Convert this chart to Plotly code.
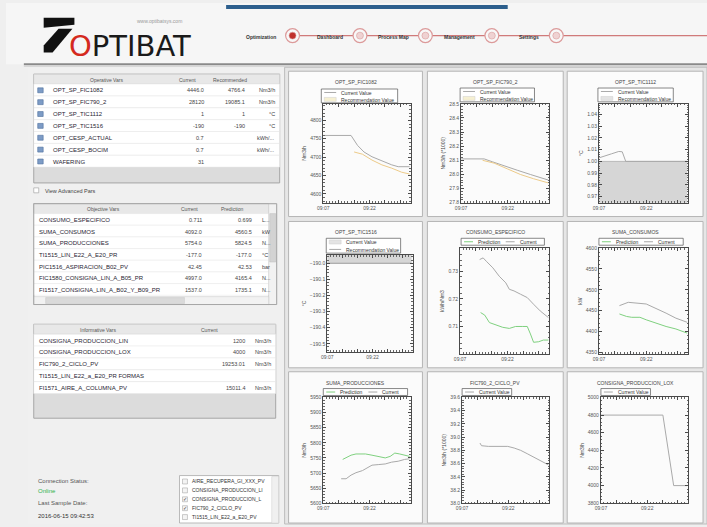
import plotly.graph_objects as go

W, H = 707, 527
FONT = "Liberation Sans, Arial, sans-serif"


def X(p):
    return p / W


def Y(p):
    return 1 - p / H


# ------------------------------------------------------------------ data
nav_labels = ["Optimization", "Dashboard", "Process Map", "Management", "Settings"]

operative_vars = ["OPT_SP_FIC1082", "OPT_SP_FIC790_2", "OPT_SP_TIC1112", "OPT_SP_TIC1516",
                  "OPT_CESP_ACTUAL", "OPT_CESP_BOCIM", "WAFERING"]
operative_current = ["4446.0", "28120", "1", "-190", "0.7", "0.7", "31"]
operative_recommended = ["4766.4", "19085.1", "1", "-190", "", "", ""]
operative_units = ["Nm3/h", "Nm3/h", "°C", "°C", "kWh/...", "kWh/...", ""]

objective_vars = ["CONSUMO_ESPECIFICO", "SUMA_CONSUMOS", "SUMA_PRODUCCIONES", "TI1515_LIN_E22_A_E20_PR",
                  "PIC1516_ASPIRACION_B02_PV", "FIC1580_CONSIGNA_LIN_A_B05_PR",
                  "FI1517_CONSIGNA_LIN_A_B02_Y_B09_PR"]
objective_current = ["0.711", "4092.0", "5754.0", "-177.0", "42.45", "4997.0", "1537.0"]
objective_prediction = ["0.699", "4560.5", "5824.5", "-177.0", "42.53", "4165.4", "1735.1"]
objective_units = ["L...", "kW", "N...", "°C", "bar", "N...", "N..."]

informative_vars = ["CONSIGNA_PRODUCCION_LIN", "CONSIGNA_PRODUCCION_LOX", "FIC790_2_CICLO_PV",
                    "TI1515_LIN_E22_a_E20_PR FORMAS", "FI1571_AIRE_A_COLUMNA_PV"]
informative_current = ["1200", "4000", "19253.01", "", "15011.4"]
informative_units = ["Nm3/h", "Nm3/h", "Nm3/h", "", "Nm3/h"]

connection_status = "Online"
last_sample_date = "2016-06-15 09:42:53"
trend_tags = ["AIRE_RECUPERA_GI_XXX_PV", "CONSIGNA_PRODUCCION_LI", "CONSIGNA_PRODUCCION_L",
              "FIC790_2_CICLO_PV", "TI1515_LIN_E22_a_E20_PV"]
trend_checked = [False, False, True, True, False]

# time axis: minutes after 09:07
time_tickvals = [0, 5, 10, 15, 20, 25]
time_ticktext = ["09:07", "", "", "09:22", "", ""]

chart_titles = ["OPT_SP_FIC1082", "OPT_SP_FIC790_2", "OPT_SP_TIC1112",
                "OPT_SP_TIC1516", "CONSUMO_ESPECIFICO", "SUMA_CONSUMOS",
                "SUMA_PRODUCCIONES", "FIC790_2_CICLO_PV", "CONSIGNA_PRODUCCION_LOX"]
chart_units = ["Nm3/h", "Nm3/h (*1000)", "°C", "°C", "kWh/Nm3", "kW", "Nm3/h", "Nm3/h (*1000)", "Nm3/h"]

fic1082_t_cur = [0, 9.0, 11.1, 13.2, 15.8, 19.0, 22.2, 24.3, 28]
fic1082_cur = [4759, 4759, 4732, 4714, 4701, 4689, 4679, 4674, 4674]
fic1082_t_rec = [10.0, 12.7, 15.8, 19.0, 22.2, 25.4, 28]
fic1082_rec = [4714, 4708, 4692, 4679, 4670, 4659, 4654]

fic790_t_cur = [0, 7.4, 10.0, 13.7, 18.0, 22.2, 25.4, 28]
fic790_cur = [28.11, 28.11, 28.09, 28.06, 28.03, 28.0, 27.98, 27.96]
fic790_t_rec = [6.9, 10.6, 14.8, 19.0, 23.2, 28]
fic790_rec = [28.10, 28.08, 28.04, 28.0, 27.97, 27.94]

tic1112_t_cur = [0, 2, 4, 6.3, 7.4, 8.5, 28]
tic1112_cur = [1.003, 1.005, 1.0065, 1.0085, 1.0082, 1.000, 1.000]
tic1112_t_rec = [0, 28]
tic1112_rec = [1.0, 1.0]

tic1516_t = [0, 28]
tic1516_cur = [-190.0, -190.0]
tic1516_rec = [-190.0, -190.0]

cesp_t_cur = [6.2, 7.3, 8.3, 10.4, 12.4, 14.5, 15.6, 17.1, 19.2, 21.3, 23.3, 25.4, 28]
cesp_cur = [0.7342, 0.7348, 0.7336, 0.7312, 0.7282, 0.7258, 0.7235, 0.7229, 0.7217, 0.7205,
            0.7181, 0.7157, 0.7133]
cesp_t_pred = [6.5, 7.8, 9.3, 11.4, 13.5, 15.6, 17.6, 19.7, 21.3, 22.3, 23.3, 24.9, 26.4, 28]
cesp_pred = [0.7151, 0.7142, 0.7115, 0.7106, 0.7098, 0.7094, 0.7101, 0.7101, 0.7101, 0.7074,
             0.7044, 0.7046, 0.7052, 0.7052]

cons_t_cur = [6.5, 9.3, 15.0, 18.1, 21.3, 24.4, 28]
cons_cur = [4462, 4470, 4466, 4456, 4444, 4432, 4422]
cons_t_pred = [6.5, 8.8, 10.4, 13.0, 15.0, 18.1, 21.3, 24.4, 28]
cons_pred = [4442, 4436, 4434, 4434, 4428, 4420, 4412, 4406, 4396]

prod_t_pred = [6.3, 7.4, 9.0, 10.6, 13.7, 15.8, 18.5, 20.1, 21.7, 23.2, 24.8, 26.4, 28]
prod_pred = [5745, 5750, 5759, 5763, 5763, 5759, 5752, 5750, 5755, 5766, 5763, 5759, 5755]
prod_t_cur = [5.8, 7.4, 9.0, 10.6, 12.7, 14.3, 15.8, 18.0, 20.1, 22.2, 24.3, 26.4, 28]
prod_cur = [5681, 5681, 5693, 5701, 5708, 5717, 5726, 5728, 5730, 5736, 5739, 5745, 5747]

ciclo_t = [5.8, 6.3, 8.5, 11.6, 14.8, 16.9, 19.0, 21.1, 23.2, 25.4, 28]
ciclo = [38.91, 38.87, 38.86, 38.86, 38.86, 38.835, 38.80, 38.75, 38.695, 38.64, 38.58]

lox_t = [0, 20.1, 23.6, 28]
lox = [4800, 4800, 4000, 4000]

# ------------------------------------------------------------------ styles
STYLE = {
    "cur": dict(line=dict(color="#a9a9a9", width=1)),
    "rec": dict(line=dict(color="#ecca88", width=1)),
    "recfill": dict(line=dict(color="#b9b9b9", width=1), fill="tozeroy", fillcolor="#d6d6d6"),
    "pred": dict(line=dict(color="#7fd07f", width=1)),
}

charts = [
    dict(box=(320, 102, 408, 202), yr=[4576, 4845], dt=50, fmt="d",
         series=[("Current Value", fic1082_t_cur, fic1082_cur, "cur"),
                 ("Recommendation Value", fic1082_t_rec, fic1082_rec, "rec")],
         leg=(318, 87, 395, 101, "v")),
    dict(box=(459, 102, 548, 202), yr=[27.8, 28.5], dt=0.1, fmt=".1f",
         series=[("Current Value", fic790_t_cur, fic790_cur, "cur"),
                 ("Recommendation Value", fic790_t_rec, fic790_rec, "rec")],
         leg=(458, 86, 533, 100, "v")),
    dict(box=(598, 102, 688, 202), yr=[0.9647, 1.0492], dt=0.01, fmt=".2f",
         series=[("Recommendation Value", tic1112_t_rec, tic1112_rec, "recfill"),
                 ("Current Value", tic1112_t_cur, tic1112_cur, "cur")],
         leg=(597, 86, 673, 100, "v")),
    dict(box=(324, 255, 410, 353), yr=[-190.551, -189.949], dt=0.1, fmt=".1f",
         series=[("Current Value", tic1516_t, tic1516_cur, "recfill"),
                 ("Recommendation Value", tic1516_t, tic1516_rec, "cur")],
         leg=(323, 238, 398, 253, "v")),
    dict(box=(458, 248, 548, 355), yr=[0.7002, 0.7383], dt=0.01, fmt=".2f",
         series=[("Prediction", cesp_t_pred, cesp_pred, "pred"),
                 ("Current", cesp_t_cur, cesp_cur, "cur")],
         leg=(459, 238, 543, 245, "h")),
    dict(box=(598, 248, 688, 355), yr=[4346, 4600], dt=50, fmt="d",
         series=[("Prediction", cons_t_pred, cons_pred, "pred"),
                 ("Current", cons_t_cur, cons_cur, "cur")],
         leg=(598, 238, 683, 245, "h")),
    dict(box=(320, 399, 408, 506), yr=[5600, 5950], dt=50, fmt="d",
         series=[("Prediction", prod_t_pred, prod_pred, "pred"),
                 ("Current", prod_t_cur, prod_cur, "cur")],
         leg=(320, 390, 405, 397, "h")),
    dict(box=(460, 399, 548, 506), yr=[38.0, 39.6], dt=0.2, fmt=".1f",
         series=[("Current Value", ciclo_t, ciclo, "cur")],
         leg=(460, 390, 510, 397, "h")),
    dict(box=(600, 399, 688, 506), yr=[3800, 5000], dt=200, fmt="d",
         series=[("Current Value", lox_t, lox, "cur")],
         leg=(600, 390, 650, 397, "h")),
]

panel_cols = [(285, 420), (425, 562), (566, 703)]
panel_rows = [(69, 216), (221, 369), (373, 526)]

fig = go.Figure()
shapes = []
annots = []


def rect(x0, y0, x1, y1, fill, line="rgba(0,0,0,0)", lw=1, layer="below"):
    shapes.append(dict(type="rect", xref="paper", yref="paper", x0=X(x0), x1=X(x1), y0=Y(y1), y1=Y(y0),
                       fillcolor=fill, line=dict(color=line, width=lw), layer=layer))


def hline(x0, x1, y, color, lw=1, layer="below"):
    shapes.append(dict(type="line", xref="paper", yref="paper", x0=X(x0), x1=X(x1), y0=Y(y), y1=Y(y),
                       line=dict(color=color, width=lw), layer=layer))


def circle(cx, cy, r, fill, line, lw=1):
    shapes.append(dict(type="circle", xref="paper", yref="paper", x0=X(cx - r), x1=X(cx + r),
                       y0=Y(cy + r), y1=Y(cy - r), fillcolor=fill, line=dict(color=line, width=lw), layer="above"))


def poly(points, fill):
    d = "M " + " L ".join(f"{X(a):.5f},{Y(b):.5f}" for a, b in points) + " Z"
    shapes.append(dict(type="path", xref="paper", yref="paper", path=d, fillcolor=fill,
                       line=dict(width=0), layer="above"))


def text(x, y, s, size=5, color="#333", xa="left", ya="middle", family=FONT, angle=0):
    annots.append(dict(x=X(x), y=Y(y), xref="paper", yref="paper", text=s, showarrow=False,
                       xanchor=xa, yanchor=ya, font=dict(size=size, color=color, family=family),
                       textangle=angle))


def draw_table(edges, top, bottom, header, columns, aligns, colors, sizes, header_h, row_h, under_fill):
    x0, x1 = edges[0], edges[-1]
    rect(x0, top, x1, bottom, under_fill, "#a6a6a6", 1)
    rect(x0, top, x1, top + header_h, "#e8e8e8", "#cdcdcd", 0.5)
    for lab, cx in header:
        text(cx, top + header_h / 2 + 0.5, lab, size=5, color="#555", xa="center")
    for r in range(len(columns[0])):
        ry0 = top + header_h + r * row_h
        rect(x0, ry0, x1, ry0 + row_h, "white", "#e6e6e6", 0.5)
        yc = ry0 + row_h / 2 + 0.5
        for c, col in enumerate(columns):
            a, b = edges[c], edges[c + 1]
            if aligns[c] == "left":
                text(a + 3, yc, col[r], size=sizes[c], color=colors[c], xa="left")
            elif aligns[c] == "right":
                text(b - 3, yc, col[r], size=sizes[c], color=colors[c], xa="right")
            elif aligns[c] == "icon":
                rect(a + 4, yc - 2.7, a + 9.5, yc + 2.3, "#7d9cc6", "#4d6e9c", 0.6, layer="above")
            else:
                text((a + b) / 2, yc, col[r], size=sizes[c], color=colors[c], xa="center")


# ------------------------------------------------------------------ page background / header
rect(0, 0, 707, 62, "#f6f6f6")
rect(222, 2, 506, 6, "#2d5f8d")
hline(18, 707, 62, "#8a8a8a", 2)
hline(18, 707, 64, "#cfcfcf", 1)

poly([(38, 15), (69, 15), (69, 22), (38, 25)], "#111")
poly([(53, 26), (67, 26), (47, 50), (38, 50), (38, 43)], "#111")
text(62, 44, "<span style='color:#d42a1e'>O</span>PTIBAT", size=29, color="#1a1a1a",
     family="DejaVu Sans, sans-serif")
text(155, 18, "www.optibatsys.com", size=5, color="#9a9a9a", xa="center")

nav_x = [289, 357, 423, 490, 555]
hline(283, 707, 33, "#d07a7a", 1.2, layer="above")
for i, (lab, cx) in enumerate(zip(nav_labels, nav_x)):
    circle(cx, 33, 7, "#f8f8f8", "#dc9a9a", 1.2)
    circle(cx, 33, 3.5, "#c0302c" if i == 0 else "#efd2d2", "#d89a9a", 0.6)
    text(cx - 15, 34, f"<b>{lab}</b>", size=5, color="#333", xa="right")

# ------------------------------------------------------------------ left column
rect(22, 66, 280, 527, "#f0f0f0")

NAME_C = "#1f2533"
VAL_C = "#444"

draw_table([28, 42, 160, 205, 246, 276], 72, 182,
           [("Operative Vars", 101), ("Current", 183), ("Recommended", 226)],
           [operative_vars, operative_vars, operative_current, operative_recommended, operative_units],
           ["icon", "left", "right", "right", "right"],
           [NAME_C, NAME_C, VAL_C, VAL_C, VAL_C], [6, 6, 5.5, 5.5, 5.5], 10, 12, "#dcdcdc")
rect(28, 187, 33, 192, "white", "#999", 0.6, layer="above")
text(37, 190, "View Advanced Pars", size=5.5, color="#444")

draw_table([28, 168, 203, 253, 265], 203, 305,
           [("Objective Vars", 98), ("Current", 185), ("Prediction", 228)],
           [objective_vars, objective_current, objective_prediction, objective_units],
           ["left", "right", "right", "left"],
           [NAME_C, VAL_C, VAL_C, VAL_C], [6, 5.5, 5.5, 5.5], 10, 11.8, "#ffffff")
rect(265, 203, 273, 305, "#f2f2f2", "#d0d0d0", 0.6, layer="above")
rect(266, 213, 272, 262, "#d3d3d3", "#c0c0c0", 0.5, layer="above")
rect(28, 297, 265, 305, "#f2f2f2", "#d0d0d0", 0.6, layer="above")
rect(40, 298, 180, 304, "#dadada", "#c8c8c8", 0.5, layer="above")
rect(28, 203, 273, 305, "rgba(0,0,0,0)", "#a6a6a6", 1, layer="above")

draw_table([28, 180, 246, 272], 325, 420,
           [("Informative Vars", 93), ("Current", 205)],
           [informative_vars, informative_current, informative_units],
           ["left", "right", "right"],
           [NAME_C, VAL_C, VAL_C], [6, 5.5, 5.5], 10, 12, "#dcdcdc")

# connection status
text(30, 483, "Connection Status:", size=6, color="#555")
text(30, 494, connection_status, size=6, color="#2fb24a")
text(30, 506, "Last Sample Date:", size=6, color="#555")
text(30, 519, last_sample_date, size=6, color="#333")

rect(175, 478, 275, 526, "white", "#a9a9a9", 0.8)
rect(268, 479, 275, 526, "#f0f0f0", "#d0d0d0", 0.5)
for i, (tag, chk) in enumerate(zip(trend_tags, trend_checked)):
    yy = 484 + i * 9
    rect(178, yy - 2.5, 183, yy + 2.5, "#f4f4f4", "#999", 0.5, layer="above")
    if chk:
        text(180.5, yy, "✓", size=5, color="#333", xa="center")
    text(186, yy, tag, size=5, color="#333")

# ------------------------------------------------------------------ chart panels
rect(281, 65, 707, 527, "#e6e6e6", "#bdbdbd")
for (ry0, ry1) in panel_rows:
    for (cx0, cx1) in panel_cols:
        rect(cx0, ry0, cx1, ry1, "#fbfbfb", "#b5b5b5", 1)

axis_common = dict(showline=True, linecolor="#4a4a4a", linewidth=1, mirror="ticks", ticks="inside",
                   ticklen=3, tickcolor="#4a4a4a", showgrid=False, zeroline=False,
                   tickfont=dict(size=5, color="#555", family=FONT))

for i, ch in enumerate(charts):
    n = i + 1
    sx = "" if n == 1 else str(n)
    x0, y0, x1, y1 = ch["box"]
    for (name, tx, ty, kind) in ch["series"]:
        fig.add_trace(go.Scatter(x=tx, y=ty, mode="lines", name=name, showlegend=False,
                                 xaxis="x" + sx, yaxis="y" + sx, hoverinfo="skip", **STYLE[kind]))
    fig.layout["xaxis" + sx] = dict(
        axis_common, domain=[X(x0), X(x1)], anchor="y" + sx, range=[0, 28.3],
        tickmode="array", tickvals=time_tickvals, ticktext=time_ticktext,
        minor=dict(ticks="inside", ticklen=1.5, tickcolor="#666", dtick=1))
    fig.layout["yaxis" + sx] = dict(
        axis_common, domain=[Y(y1), Y(y0)], anchor="x" + sx, range=ch["yr"],
        dtick=ch["dt"], tick0=0, tickformat=ch["fmt"],
        minor=dict(ticks="inside", ticklen=1.5, tickcolor="#666", dtick=ch["dt"] / 5),
        title=dict(text=chart_units[i], font=dict(size=5, color="#444", family=FONT), standoff=3))
    cxp = panel_cols[i % 3]
    ryp = panel_rows[i // 3]
    text((cxp[0] + cxp[1]) / 2, ryp[0] + 11, chart_titles[i], size=5, color="#444", xa="center")
    # legend box
    lx0, ly0, lx1, ly1, orient = ch["leg"]
    rect(lx0, ly0, lx1, ly1, "white", "#555", 0.7, layer="above")
    names = [s[0] for s in ch["series"]]
    kinds = [s[3] for s in ch["series"]]
    if i == 2:
        names, kinds = names[::-1], kinds[::-1]
    m = len(names)
    for j, (nm, kd) in enumerate(zip(names, kinds)):
        col = STYLE[kd]["line"]["color"]
        if orient == "v":
            rh = (ly1 - ly0) / m
            yc = ly0 + rh * (j + 0.5)
            sx0, sx1, tx = lx0 + 3, lx0 + 15, lx0 + 18
        else:
            cw = (lx1 - lx0) / m
            yc = (ly0 + ly1) / 2
            sx0, sx1, tx = lx0 + cw * j + 3, lx0 + cw * j + 12, lx0 + cw * j + 15
        if kd in ("rec", "recfill"):
            rect(sx0, yc - 2, sx1, yc + 2, "#f6f0d2" if kd == "rec" else "#e4e4e4", "#cfcfcf", 0.5,
                 layer="above")
        else:
            hline(sx0, sx1, yc, col, 1, layer="above")
        text(tx, yc + 0.3, nm, size=5, color="#333")

fig.update_layout(
    width=W, height=H, autosize=False, margin=dict(l=0, r=0, t=0, b=0),
    paper_bgcolor="#efefef", plot_bgcolor="#f7f7f7",
    showlegend=False, shapes=shapes, annotations=annots,
    font=dict(family=FONT, size=5), hovermode=False,
)

fig.write_html("out.html", config={"displayModeBar": False, "staticPlot": True},
               post_script="document.body.style.margin='0px';document.body.style.overflow='hidden';")
